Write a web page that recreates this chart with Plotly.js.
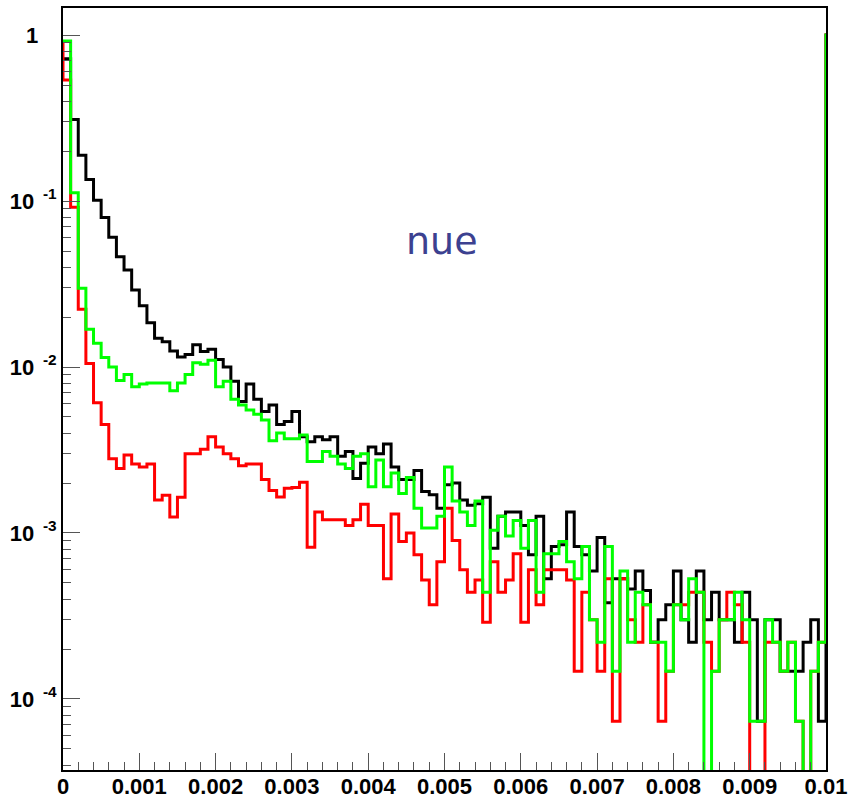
<!DOCTYPE html>
<html>
<head>
<meta charset="utf-8">
<script src="https://cdn.plot.ly/plotly-3.0.1.min.js"></script>
<style>
html,body{margin:0;padding:0;background:#ffffff;}
#chart{width:849px;height:800px;}
</style>
</head>
<body>
<div id="chart"></div>
<script>
// ---- histogram definition (100 bins from 0 to 0.01) ----
const binWidth = 0.0001;
const nBins = 100;

// bin contents (index 0 = bin [0, 0.0001))
const blackVals = [
  0.72, 0.31, 0.189, 0.135, 0.101, 0.0797, 0.0604, 0.0462, 0.0384, 0.0291,
  0.0234, 0.0185, 0.0149, 0.0142, 0.0125, 0.0115, 0.0119, 0.0136, 0.0124, 0.0128,
  0.0111, 0.0100, 0.0082, 0.0062, 0.0079, 0.0064, 0.0054, 0.0059, 0.0045, 0.0047,
  0.0054, 0.0038, 0.00355, 0.0038, 0.00364, 0.0038, 0.0029, 0.0031, 0.00213, 0.00263,
  0.0033, 0.0030, 0.00344, 0.0025, 0.0021, 0.0021, 0.00238, 0.00178, 0.0017, 0.00141,
  0.00195, 0.0020, 0.00158, 0.00147, 0.0015, 0.00164, 0.00081, 0.00126, 0.00134, 0.00134,
  0.00111, 0.00074, 0.00126, 0.00053, 0.00083, 0.00085, 0.00134, 0.00083, 0.00074, 0.00059,
  0.00094, 0.00038, 0.00053, 0.00053, 0.00046, 0.00059, 0.00045, 0.00022, 0.0003, 0.00037,
  0.00059, 0.0003, 0.00022, 0.00059, 0.0003, 0.00044, 0.0003, 0.0003, 0.00022, 0.00044,
  0.0003, 0.0000735, 0.0003, 0.0003, 0.000147, 0.000147, 0.000147, 0.00022, 0.0003, 0.0000735
];
const redVals = [
  0.536, 0.0916, 0.0223, 0.0105, 0.0061, 0.0045, 0.0028, 0.00245, 0.00295, 0.0026,
  0.0025, 0.0026, 0.00158, 0.00169, 0.00125, 0.00164, 0.0030, 0.0030, 0.0032, 0.0038,
  0.0033, 0.0030, 0.0028, 0.00254, 0.0026, 0.0026, 0.0021, 0.0018, 0.00165, 0.00186,
  0.00188, 0.00202, 0.00082, 0.00134, 0.0012, 0.0012, 0.0012, 0.00111, 0.0012, 0.00149,
  0.00111, 0.00111, 0.00053, 0.0013, 0.00089, 0.0010, 0.00074, 0.00052, 0.00037, 0.00067,
  0.00141, 0.0009, 0.0006, 0.00044, 0.00052, 0.00029, 0.00067, 0.00044, 0.00052, 0.00075,
  0.00029, 0.0006, 0.00037, 0.0006, 0.0006, 0.0006, 0.00052, 0.000147, 0.00044, 0.0003,
  0.000147, 0.00053, 0.0000735, 0.00053, 0.0003, 0.00022, 0.00037, 0.00022, 0.0000735, 0.000147,
  0.00037, 0.00037, 0.00044, 0.00044, 0.00022, 0.000147, 0.0003, 0.00044, 0.00037, 0.00022,
  0, 0, 0.00022, 0.00022, 0.000147, 0.00022, 0.0000735, 0, 0.000147, 0.00022
];
const greenVals = [
  0.92, 0.112, 0.0298, 0.0169, 0.0139, 0.0114, 0.0100, 0.0083, 0.0090, 0.0076,
  0.0079, 0.0080, 0.0080, 0.0080, 0.0072, 0.0080, 0.0090, 0.0106, 0.0104, 0.0110,
  0.0076, 0.0082, 0.0064, 0.0059, 0.0055, 0.0052, 0.0048, 0.0036, 0.0040, 0.0037,
  0.0037, 0.0039, 0.0027, 0.0027, 0.0031, 0.0029, 0.0026, 0.00245, 0.0029, 0.0030,
  0.0019, 0.00275, 0.0019, 0.0023, 0.00173, 0.00216, 0.00141, 0.00107, 0.00107, 0.00126,
  0.0025, 0.00156, 0.00134, 0.00111, 0.00156, 0.00044, 0.00104, 0.00126, 0.00096, 0.00119,
  0.00081, 0.00119, 0.00044, 0.00075, 0.00075, 0.00089, 0.00067, 0.00053, 0.00083, 0.0003,
  0.00022, 0.00083, 0.000147, 0.00059, 0.00022, 0.00044, 0.00037, 0.00022, 0.00022, 0.000147,
  0.00037, 0.0003, 0.00053, 0.00044, 0, 0.000147, 0.0003, 0.0003, 0.00044, 0.0003,
  0.0000735, 0.0000735, 0.0003, 0.00022, 0.000147, 0.00022, 0.0000735, 0, 0.000147, 0.00022
];

// contents of the bins just outside the drawn range (below 0 and above 0.01)
const seriesNames   = ['black', 'red', 'green'];
const seriesColors  = ['#000000', '#ff0000', '#00ff00'];
const underflowVals = [0.72, 0.89, 0.92];
const overflowVals  = [1.0, 1.0, 1.0];

// axis ticks
const xTickVals = [0, 0.001, 0.002, 0.003, 0.004, 0.005, 0.006, 0.007, 0.008, 0.009, 0.01];
const xTickText = ['0', '0.001', '0.002', '0.003', '0.004', '0.005', '0.006', '0.007', '0.008', '0.009', '0.01'];
const yTickVals = [1e-4, 1e-3, 1e-2, 1e-1, 1];
const NB = '\u00a0';
const yTickText = [
  '10<sup>' + NB + NB + '-4</sup>',
  '10<sup>' + NB + NB + '-3</sup>',
  '10<sup>' + NB + NB + '-2</sup>',
  '10<sup>' + NB + NB + '-1</sup>',
  '1' + NB + NB + NB
];
const labelText = 'nue';

// ---- build step traces ----
const FLOOR = 1e-9; // empty bins drop below the frame, as on a log axis
function stepTrace(vals, under, over, color, name) {
  const xs = [], ys = [];
  xs.push(-binWidth); ys.push(under);
  for (let i = 0; i < nBins; i++) {
    xs.push(+(i * binWidth).toFixed(6));
    ys.push(vals[i] > 0 ? vals[i] : FLOOR);
  }
  xs.push(+(nBins * binWidth).toFixed(6)); ys.push(over);
  xs.push(+((nBins + 1) * binWidth).toFixed(6)); ys.push(over);
  return {
    type: 'scatter', mode: 'lines', name: name,
    x: xs, y: ys,
    line: {shape: 'hv', color: color, width: 3},
    hoverinfo: 'skip', showlegend: false
  };
}

const traces = [
  stepTrace(blackVals, underflowVals[0], overflowVals[0], seriesColors[0], seriesNames[0]),
  stepTrace(redVals,   underflowVals[1], overflowVals[1], seriesColors[1], seriesNames[1]),
  stepTrace(greenVals, underflowVals[2], overflowVals[2], seriesColors[2], seriesNames[2])
];

// y-range read from the frame: from ~3.7e-5 to ~1.45
const yRangeLog = [-4.428, 0.163];

const yMinor = [];
for (let e = -5; e <= 0; e++) {
  for (let d = 2; d <= 9; d++) yMinor.push(d * Math.pow(10, e));
}

const tickFont = {family: 'Liberation Sans, Arial, sans-serif', size: 22, color: '#000000', weight: 'bold'};

const layout = {
  width: 849, height: 800,
  margin: {l: 63, r: 23, t: 8, b: 30, pad: 0},
  paper_bgcolor: '#ffffff', plot_bgcolor: '#ffffff',
  showlegend: false,
  xaxis: {
    range: [0, 0.01], showgrid: false, zeroline: false,
    showline: true, linecolor: '#000000', linewidth: 2, mirror: true,
    tickmode: 'array', tickvals: xTickVals, ticktext: xTickText,
    ticks: 'inside', ticklen: 17, tickwidth: 1, tickcolor: '#555555',
    minor: {ticks: 'inside', ticklen: 8, tickwidth: 1, tickcolor: '#555555', dtick: 0.0002, tick0: 0, showgrid: false},
    tickfont: tickFont, ticklabelstandoff: -4
  },
  yaxis: {
    type: 'log', range: yRangeLog, showgrid: false, zeroline: false,
    showline: true, linecolor: '#000000', linewidth: 2, mirror: true,
    tickmode: 'array', tickvals: yTickVals, ticktext: yTickText,
    ticks: 'inside', ticklen: 17, tickwidth: 1, tickcolor: '#555555',
    minor: {ticks: 'inside', ticklen: 8, tickwidth: 1, tickcolor: '#555555', tickmode: 'array', tickvals: yMinor, showgrid: false},
    tickfont: tickFont, ticklabelstandoff: 0
  },
  annotations: [{
    text: labelText, xref: 'paper', yref: 'paper',
    x: 0.497, y: 0.694, xanchor: 'center', yanchor: 'middle',
    showarrow: false,
    font: {family: 'DejaVu Sans, sans-serif', size: 38, color: '#3c4190'}
  }]
};

Plotly.newPlot('chart', traces, layout, {staticPlot: true, displayModeBar: false});
</script>
</body>
</html>
